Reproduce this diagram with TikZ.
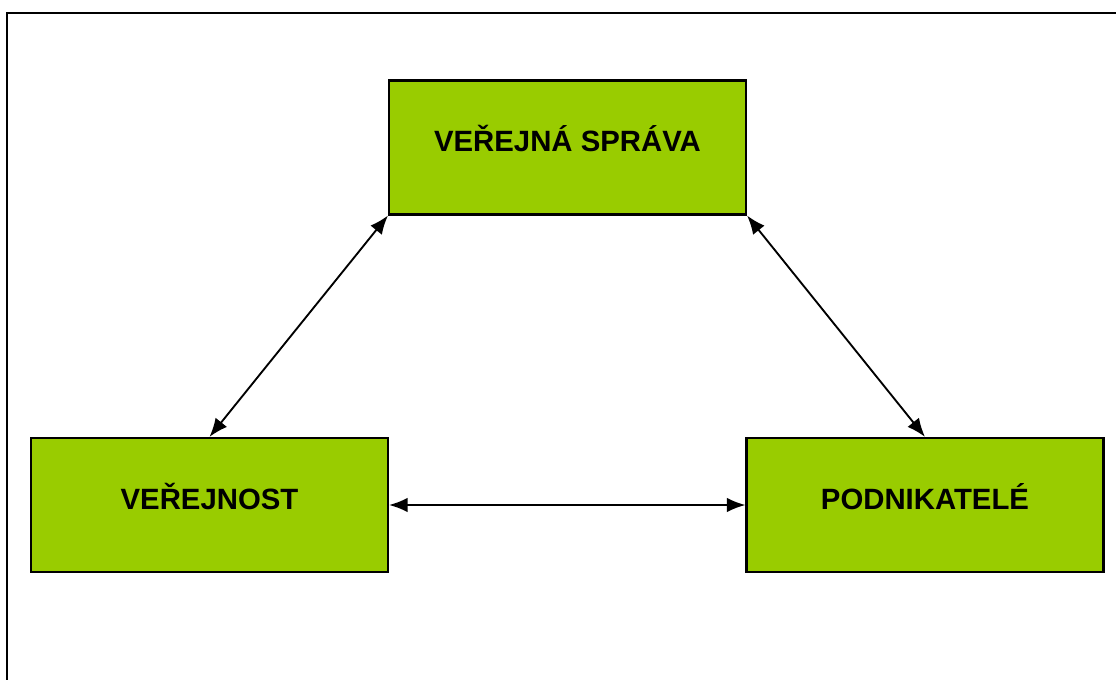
\documentclass[tikz,border=0pt]{standalone}
\usepackage{fontspec}
\setmainfont{Liberation Sans}
\usetikzlibrary{arrows.meta}
\definecolor{boxgreen}{HTML}{99CC00}
\tikzset{
  greenbox/.style={draw=black, line width=1.6pt, fill=boxgreen, minimum width=357*0.75pt, minimum height=134*0.75pt, inner sep=0pt, text height=16pt, text depth=10pt, font=\bfseries\fontsize{22}{26}\selectfont},
  link/.style={line width=1.4pt, {Latex[length=14pt,width=11pt]}-{Latex[length=14pt,width=11pt]}}
}
\begin{document}
\begin{tikzpicture}[x=0.75pt,y=-0.75pt]
\useasboundingbox (0,0) rectangle (1116,680);
\draw[line width=1.8pt] (1130,13) -- (7,13) -- (7,695);
\node[greenbox] (sprava) at (567.5,147.5) {VEŘEJNÁ SPRÁVA};
\node[greenbox] (verejnost) at (209.5,505) {VEŘEJNOST};
\node[greenbox] (podnik) at (925,505) {PODNIKATELÉ};
\draw[link] (sprava.south west) -- (verejnost.north);
\draw[link] (sprava.south east) -- (podnik.north);
\draw[link] (verejnost.east) -- (podnik.west);
\end{tikzpicture}
\end{document}
